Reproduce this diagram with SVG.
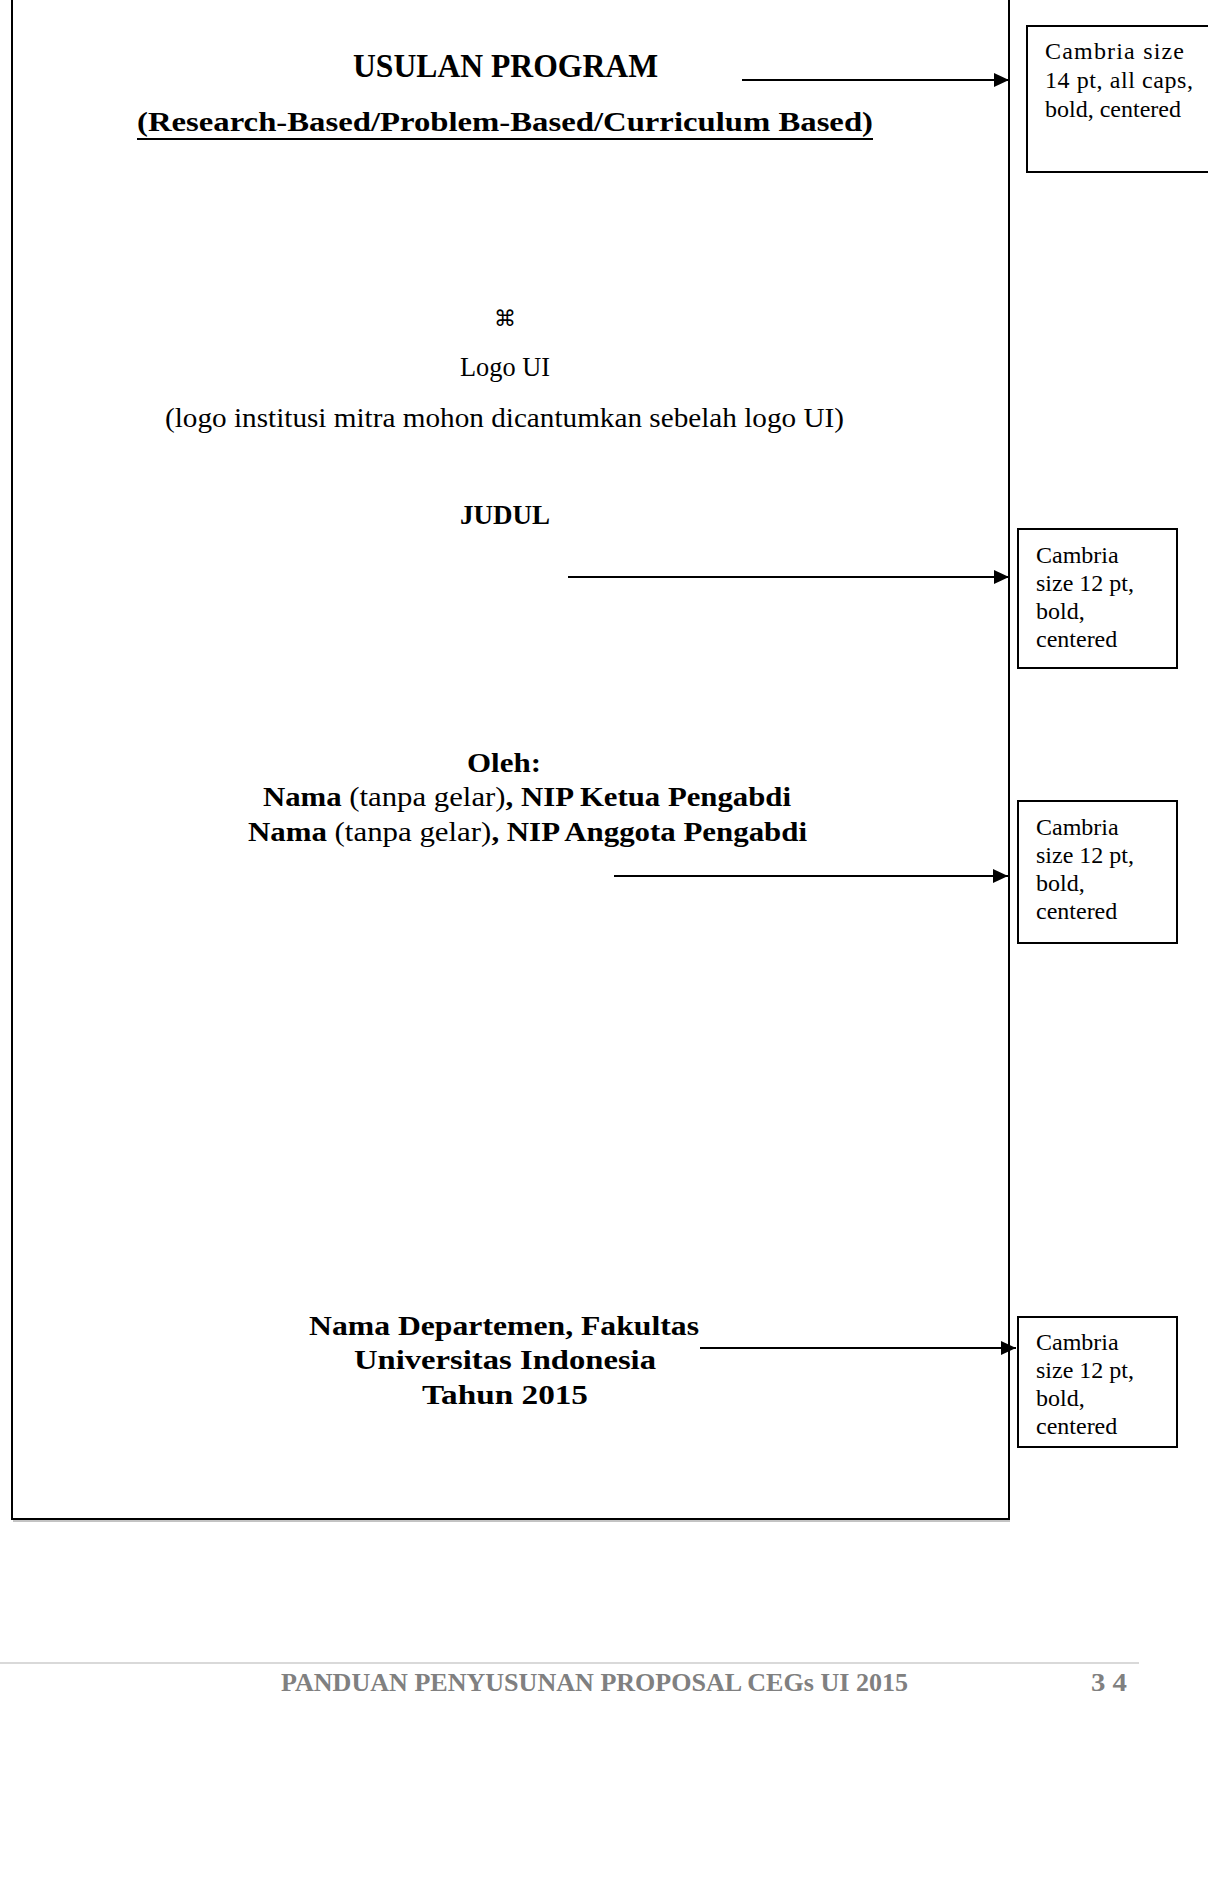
<svg xmlns="http://www.w3.org/2000/svg" width="1208" height="1895" viewBox="0 0 1208 1895">
<style>
.cb{font-family:"Liberation Serif","DejaVu Serif",serif;font-weight:bold;fill:#000}
.cr{font-family:"Liberation Serif","DejaVu Serif",serif;font-weight:normal;fill:#000}
.note{font-family:"Liberation Serif","Times New Roman",serif;font-size:24px;fill:#000}
.box{fill:#fff;stroke:#000;stroke-width:2}
.conn{stroke:#000;stroke-width:2;fill:none}
.foot{font-family:"Liberation Serif","DejaVu Serif",serif;font-weight:bold;font-size:25px;fill:#808080}
</style>
<defs>
<marker id="ah" viewBox="0 0 15 14" refX="15" refY="7" markerWidth="15" markerHeight="14" markerUnits="userSpaceOnUse" orient="auto">
<path d="M0,0 L15,7 L0,14 z" fill="#000"/>
</marker>
</defs>
<rect width="1208" height="1895" fill="#fff"/>
<g id="page-frame">
<path d="M12,0 V1519 H1009 V0" fill="none" stroke="#000" stroke-width="2"/>
<line x1="13" y1="1521" x2="1010" y2="1521" stroke="#888" stroke-width="1"/>
</g>
<g id="title">
<text class="cb" x="353" y="77" font-size="33" textLength="305" lengthAdjust="spacingAndGlyphs">USULAN PROGRAM</text>
<text class="cb" x="137" y="131" font-size="28" textLength="736" lengthAdjust="spacingAndGlyphs">(Research-Based/Problem-Based/Curriculum Based)</text>
<line x1="137" y1="139" x2="873" y2="139" stroke="#000" stroke-width="2"/>
</g>
<g id="logo">
<text class="cr" x="505" y="326" font-size="22" text-anchor="middle" style="font-family:'DejaVu Sans',sans-serif">⌘</text>
<text class="cr" x="460" y="376" font-size="28" textLength="90" lengthAdjust="spacingAndGlyphs">Logo UI</text>
<text class="cr" x="165" y="427" font-size="28" textLength="679" lengthAdjust="spacingAndGlyphs">(logo institusi mitra mohon dicantumkan sebelah logo UI)</text>
</g>
<g id="judul">
<text class="cb" x="460" y="524" font-size="28" textLength="90" lengthAdjust="spacingAndGlyphs">JUDUL</text>
</g>
<g id="authors">
<text class="cb" x="467" y="772" font-size="28" textLength="74" lengthAdjust="spacingAndGlyphs">Oleh:</text>
<text class="cb" x="263" y="806" font-size="28" textLength="528" lengthAdjust="spacingAndGlyphs">Nama<tspan class="cr"> (tanpa gelar)</tspan>, NIP Ketua Pengabdi</text>
<text class="cb" x="248" y="841" font-size="28" textLength="559" lengthAdjust="spacingAndGlyphs">Nama<tspan class="cr"> (tanpa gelar)</tspan>, NIP Anggota Pengabdi</text>
</g>
<g id="institution">
<text class="cb" x="309" y="1335" font-size="28" textLength="390" lengthAdjust="spacingAndGlyphs">Nama Departemen, Fakultas</text>
<text class="cb" x="354" y="1369" font-size="28" textLength="302" lengthAdjust="spacingAndGlyphs">Universitas Indonesia</text>
<text class="cb" x="422" y="1404" font-size="28" textLength="166" lengthAdjust="spacingAndGlyphs">Tahun 2015</text>
</g>
<g id="note-1">
<rect class="box" x="1027" y="26" width="200" height="146"/>
<text class="note" x="1045" y="59" textLength="139" lengthAdjust="spacing">Cambria  size</text>
<text class="note" x="1045" y="88" textLength="148" lengthAdjust="spacing">14 pt, all  caps,</text>
<text class="note" x="1045" y="117">bold, centered</text>
</g>
<g id="note-2">
<rect class="box" x="1018" y="529" width="159" height="139"/>
<text class="note" x="1036" y="563">Cambria</text>
<text class="note" x="1036" y="591">size 12 pt,</text>
<text class="note" x="1036" y="619">bold,</text>
<text class="note" x="1036" y="647">centered</text>
</g>
<g id="note-3">
<rect class="box" x="1018" y="801" width="159" height="142"/>
<text class="note" x="1036" y="835">Cambria</text>
<text class="note" x="1036" y="863">size 12 pt,</text>
<text class="note" x="1036" y="891">bold,</text>
<text class="note" x="1036" y="919">centered</text>
</g>
<g id="note-4">
<rect class="box" x="1018" y="1317" width="159" height="130"/>
<text class="note" x="1036" y="1350">Cambria</text>
<text class="note" x="1036" y="1378">size 12 pt,</text>
<text class="note" x="1036" y="1406">bold,</text>
<text class="note" x="1036" y="1434">centered</text>
</g>
<g id="connectors">
<line class="conn" x1="742" y1="80" x2="1009" y2="80" marker-end="url(#ah)"/>
<line class="conn" x1="568" y1="577" x2="1009" y2="577" marker-end="url(#ah)"/>
<line class="conn" x1="614" y1="876" x2="1008" y2="876" marker-end="url(#ah)"/>
<line class="conn" x1="700" y1="1348" x2="1016" y2="1348" marker-end="url(#ah)"/>
</g>
<g id="footer">
<line x1="0" y1="1663" x2="1139" y2="1663" stroke="#d9d9d9" stroke-width="2"/>
<text class="foot" x="281" y="1691" textLength="627" lengthAdjust="spacingAndGlyphs">PANDUAN PENYUSUNAN PROPOSAL CEGs UI 2015</text>
<text class="foot" x="1091" y="1691" textLength="36" lengthAdjust="spacingAndGlyphs">3 4</text>
</g>
</svg>
